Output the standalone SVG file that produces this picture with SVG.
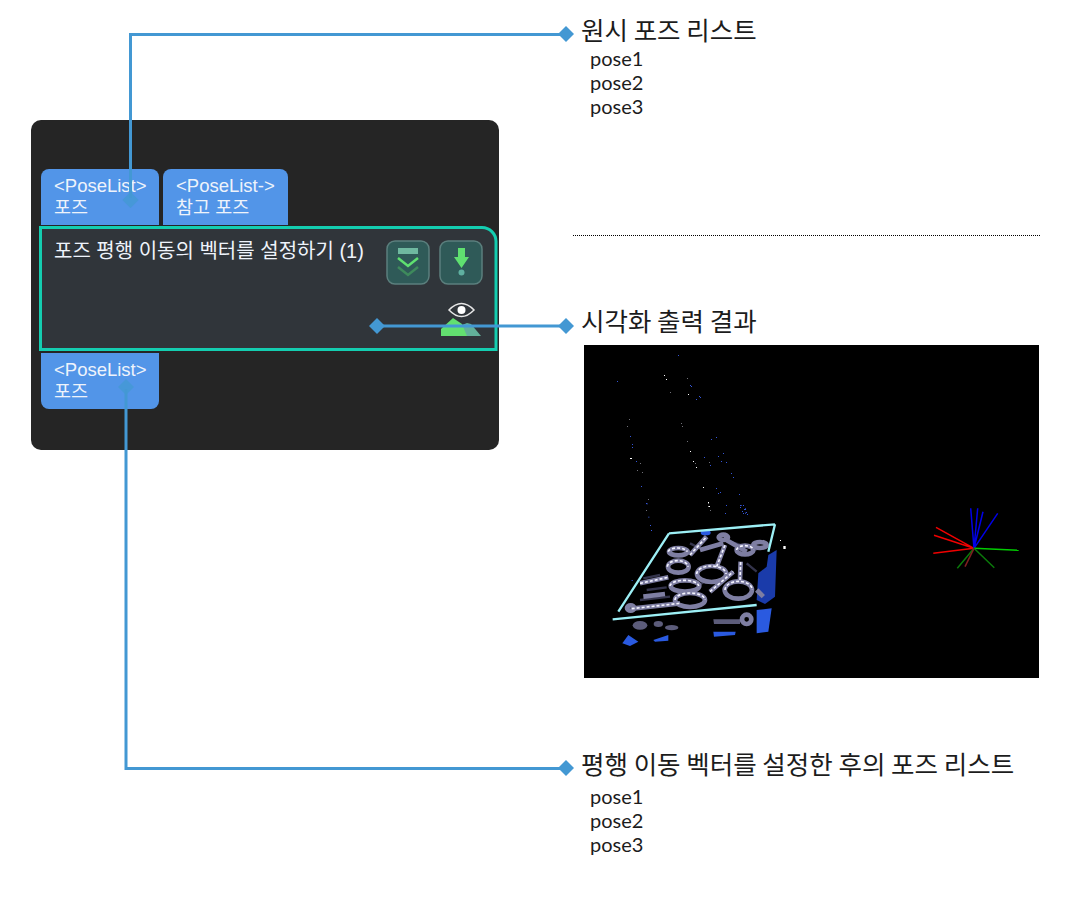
<svg xmlns="http://www.w3.org/2000/svg" width="1082" height="899" viewBox="0 0 1082 899">
<defs>
<style>
.h{font-family:"Noto Sans CJK KR","Noto Sans",sans-serif;font-size:25.500px;fill:#1c1c1c}
.p{font-family:Lato,"Noto Sans",sans-serif;font-size:20px;fill:#1c1c1c}
.n{font-family:"Liberation Sans","Noto Sans CJK KR",sans-serif;font-size:18.500px;fill:#eef3fb}
.t{font-size:20px}
.port{fill:#5295e8}
.btn{fill:#2f5a58;stroke:#5b7f7d;stroke-width:1.500}
.ln{fill:none;stroke:#4398d3;stroke-width:3}
.d{fill:#4398d3}
.rod{fill:none;stroke:#7e7ea2;stroke-width:14}
.rod2{fill:none;stroke:#f4f4ff;stroke-width:5;stroke-dasharray:9 6}
.rod3{fill:none;stroke:#34344c;stroke-width:7}
.bl{fill:#2a5ae0}
.ax{fill:none;stroke-width:1.500}
</style>
</defs>
<rect width="1082" height="899" fill="#fff"/>
<g id="panel"><rect x="31" y="120" width="468" height="330" rx="10" fill="#252525"/></g>
<g id="port-in-1"><path class="port" d="M41 225V177a8 8 0 0 1 8-8H151a8 8 0 0 1 8 8V225Z"/><text class="n" x="54" y="191.500">&lt;PoseList&gt;</text><text class="n" x="54" y="214">포즈</text></g>
<g id="port-in-2"><path class="port" d="M163 225V177a8 8 0 0 1 8-8H280a8 8 0 0 1 8 8V225Z"/><text class="n" x="176" y="191.500">&lt;PoseList-&gt;</text><text class="n" x="176" y="214">참고 포즈</text></g>
<g id="node-main"><path d="M40.500 227.500H482a14 14 0 0 1 14 14V349.500H40.500Z" fill="#30353a" stroke="#14cdb0" stroke-width="3"/>
<text class="n t" x="54" y="258">포즈 평행 이동의 벡터를 설정하기 (1)</text>
<rect class="btn" x="387" y="241" width="42" height="43" rx="8"/>
<rect x="398" y="248" width="20" height="6" fill="#6fb8a0"/>
<path d="M398 258l10 8 10-8" fill="none" stroke="#5fe070" stroke-width="2.500"/><path d="M398 267l10 8 10-8" fill="none" stroke="#3e8a5c" stroke-width="2.500"/>
<rect class="btn" x="440" y="241" width="42" height="43" rx="8"/>
<path d="M458 248h7v9h4l-7.500 11-7.500-11h4Z" fill="#5fe070"/><circle cx="461.500" cy="272.500" r="3" fill="#5fb0a0"/>
<path d="M462 336V325l5-2 4 1 10 12Z" fill="#62b09a"/>
<path d="M441 336V329l12-11 9 6 5 12Z" fill="#62e070"/>
<path d="M449 310q12.500-13 25 0q-12.500 13-25 0Z" fill="none" stroke="#e6e6e6" stroke-width="1.500"/><circle cx="461.500" cy="310" r="4" fill="#fff"/>
</g>
<g id="port-out"><path class="port" d="M41 353H159V401a8 8 0 0 1-8 8H49a8 8 0 0 1-8-8Z"/><text class="n" x="54" y="375.500">&lt;PoseList&gt;</text><text class="n" x="54" y="398">포즈</text></g>
<g id="divider"><line x1="573" y1="235.500" x2="1041" y2="235.500" stroke="#000" stroke-width="1" stroke-dasharray="1 1"/></g>
<g id="connectors">
<path class="ln" d="M130.500 198V34.500H566"/>
<path class="ln" d="M377 326H566"/>
<path class="ln" d="M126 389V768.500H566"/>
<path class="d" d="M566 26l8 8-8 8-8-8Z"/><path class="d" opacity=".8" d="M130.500 192l8 8-8 8-8-8Z"/>
<path class="d" d="M377 318l8 8-8 8-8-8Z"/><path class="d" d="M566 318l8 8-8 8-8-8Z"/>
<path class="d" opacity=".8" d="M126 379l8 8-8 8-8-8Z"/><path class="d" d="M566 760l8 8-8 8-8-8Z"/>
</g>
<g id="label-in"><text class="h" x="581" y="40">원시 포즈 리스트</text><text class="p" x="590" y="66">pose1</text><text class="p" x="590" y="90">pose2</text><text class="p" x="590" y="114">pose3</text></g>
<g id="label-vis"><text class="h" x="581" y="331">시각화 출력 결과</text></g>
<g id="label-out"><text class="h" x="581" y="774">평행 이동 벡터를 설정한 후의 포즈 리스트</text><text class="p" x="590" y="804">pose1</text><text class="p" x="590" y="828">pose2</text><text class="p" x="590" y="852">pose3</text></g>
<g id="visual-output">
<rect x="584" y="345" width="455" height="333" fill="#000"/>
<g transform="translate(590 500) scale(.33333)">
<path d="M505 220L530 200 535 165 560 150 555 290 525 312 500 300Z" fill="#1f45c8" opacity=".85"/>
<path class="bl" d="M500 330L545 325 535 395 500 400Z"/>
<path class="bl" d="M97 430L115 405 145 425 120 438Z"/><path class="bl" d="M190 420L235 405 235 422 195 425Z"/><path class="bl" d="M370 395H437L435 405 372 410Z"/>
<path class="bl" d="M332 98a15 8 0 1 1 30 0a15 8 0 1 1-30 0Z"/>
<g fill="#5c5c7a"><ellipse cx="150" cy="376" rx="22" ry="13"/><ellipse cx="205" cy="372" rx="14" ry="9"/><ellipse cx="245" cy="383" rx="20" ry="8"/><path d="M370 358H450V372H372Z"/></g>
<g class="rod3"><path d="M150 300L240 290M170 270L230 262M320 260L350 240M420 125L500 150M300 130L340 150M470 190L500 215M160 235L210 225"/></g>
<g class="rod">
<ellipse cx="300" cy="300" rx="45" ry="21"/><ellipse cx="285" cy="258" rx="43" ry="17"/><ellipse cx="365" cy="222" rx="44" ry="24"/><ellipse cx="445" cy="270" rx="41" ry="26"/><ellipse cx="465" cy="150" rx="25" ry="13"/><ellipse cx="265" cy="200" rx="31" ry="18"/><ellipse cx="265" cy="155" rx="28" ry="11"/><ellipse cx="400" cy="112" rx="14" ry="8"/><ellipse cx="122" cy="324" rx="11" ry="8"/><circle cx="470" cy="358" r="14"/><ellipse cx="510" cy="135" rx="20" ry="9"/>
<path d="M125 326L270 310M300 165L350 110M380 200L405 135M150 250L235 232M360 275L430 215M450 240L452 185M400 115L470 155M330 150L400 130M160 290L225 282M500 270L520 290"/>
</g>
<g class="rod2"><path d="M125 326L270 310M255 300a45 21 0 0 1 90 0M240 258a43 17 0 0 1 86 0M320 222a44 24 0 0 1 88 0M405 270a41 26 0 0 1 82 0M232 200a31 18 0 0 1 62 0M235 155a28 11 0 0 1 56 0M150 250L235 232M300 165L350 110M360 275L430 215M380 200L405 135M450 240L452 185M440 150a25 13 0 0 1 50 0"/></g>
<path d="M68 358L500 315M85 335L237 100M237 100L555 73M555 73L535 155" fill="none" stroke="#9ceff5" stroke-width="7"/>
<g fill="#fff"><rect x="580" y="138" width="7" height="9"/><rect x="570" y="120" width="3" height="3"/><rect x="355" y="8" width="2" height="3"/><rect x="355" y="18" width="2" height="3"/></g>
<g fill="#3a5ae0"><rect x="452" y="15" width="3" height="3"/><rect x="465" y="25" width="3" height="3"/><rect x="465" y="38" width="3" height="3"/><rect x="170" y="10" width="3" height="3"/><rect x="175" y="50" width="3" height="3"/><rect x="180" y="75" width="3" height="3"/><rect x="183" y="90" width="3" height="3"/><rect x="125" y="240" width="3" height="3"/></g>
</g>
<g transform="translate(590 345)">
<path d="M88 10h1v1h-1zM27 36h1v1h-1zM100 40h1v1h-1zM101 41h1v1h-1zM109 51h1v1h-1zM110 52h1v1h-1zM106 54h1v1h-1zM40 91h1v1h-1zM42 99h1v1h-1zM42 102h1v1h-1zM46 116h1v1h-1zM126 92h1v1h-1zM121 94h1v1h-1zM133 108h1v1h-1zM128 111h1v1h-1zM114 112h1v1h-1zM131 116h1v1h-1zM136 117h1v1h-1zM120 120h1v1h-1zM141 128h1v1h-1zM143 132h1v1h-1zM51 141h1v1h-1zM126 143h1v1h-1zM130 147h1v1h-1zM128 148h1v1h-1zM149 149h1v1h-1zM56 158h1v1h-1zM136 160h1v1h-1zM150 160h1v1h-1zM150 162h1v1h-1zM153 160h1v1h-1zM154 164h1v1h-1zM155 164h1v1h-1zM156 167h1v1h-1zM152 166h1v1h-1zM153 168h1v1h-1zM135 168h1v1h-1zM157 169h1v1h-1z" fill="#3355d8"/>
<path d="M74 30h1v1h-1zM76 34h1v1h-1zM98 49h1v1h-1zM100 106h1v1h-1zM103 116h1v1h-1zM106 122h1v1h-1zM113 142h1v1h-1zM118 157h1v1h-1zM119 161h1v1h-1zM40 113h2v1h-2z" fill="#fff"/>
<path d="M97 33h1v1h-1zM80 47h1v1h-1zM39 74h1v1h-1zM37 81h1v1h-1zM91 78h1v1h-1zM92 81h1v1h-1zM97 96h1v1h-1zM105 118h1v1h-1zM119 117h1v1h-1zM47 125h1v1h-1zM52 127h1v1h-1zM50 118h1v1h-1zM58 154h1v1h-1zM56 165h1v1h-1zM120 165h1v1h-1z" fill="#707078"/>
</g>
<path class="ax" stroke="#f00000" d="M936 527.300L974 548.300M934 535.300L974 548.300M933.300 553.300L974 548.300"/>
<path class="ax" stroke="#0000e6" d="M970.700 508.300L974 548.300M977.700 508.300L974 548.300M983 511.700L974 548.300M997.700 513.300L974 548.300"/>
<path class="ax" stroke="#00cc00" d="M974 548.300L1018.700 550.300"/>
<path class="ax" stroke="#0a7a0a" d="M974 548.300L994.300 567.700M974 548.300L957.300 568.300"/>
<path class="ax" stroke="#802020" d="M974 548.300L965 566.700"/>
</g>
</svg>
